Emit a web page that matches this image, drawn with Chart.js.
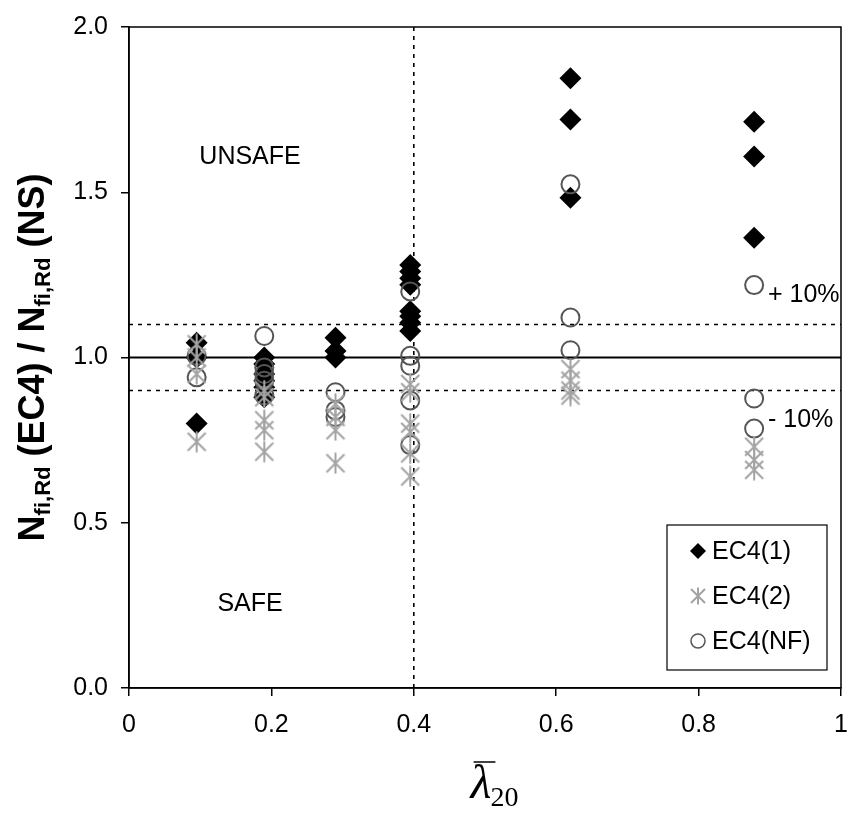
<!DOCTYPE html>
<html>
<head>
<meta charset="utf-8">
<script src="https://cdn.jsdelivr.net/npm/chart.js@4.4.1/dist/chart.umd.min.js"></script>
<style>
  html, body { margin: 0; padding: 0; background: #fff; }
  #wrap { width: 853px; height: 815px; }
</style>
</head>
<body>
<div id="wrap"><canvas id="chart"></canvas></div>
<script>
// slenderness groups (x) and ratio values read per group
var lambdaGroups = [0.095, 0.19, 0.29, 0.395, 0.62, 0.878];
var ec41Vals = [
  [1.045, 1.0, 0.80],
  [1.0, 0.98, 0.95, 0.93, 0.91, 0.88],
  [1.06, 1.02, 1.0],
  [1.28, 1.26, 1.24, 1.22, 1.14, 1.125, 1.105, 1.08],
  [1.845, 1.72, 1.483],
  [1.713, 1.608, 1.362]
];
var ec42Vals = [
  [1.04, 1.0, 0.95, 0.745],
  [0.90, 0.88, 0.81, 0.78, 0.715],
  [0.86, 0.82, 0.78, 0.68],
  [0.92, 0.895, 0.80, 0.775, 0.71, 0.64],
  [0.965, 0.93, 0.90, 0.885],
  [0.73, 0.69, 0.66]
];
var ec4nfVals = [
  [1.005, 0.94],
  [1.065, 0.97, 0.95, 0.93, 0.885],
  [0.895, 0.84, 0.82],
  [1.20, 1.005, 0.975, 0.87, 0.735],
  [1.524, 1.121, 1.022],
  [1.219, 0.876, 0.785]
];
var seriesNames = ['EC4(1)', 'EC4(2)', 'EC4(NF)'];
var xTicks = [0, 0.2, 0.4, 0.6, 0.8, 1];
var yTicks = [0, 0.5, 1.0, 1.5, 2.0];
var refLevels = [1.1, 1.0, 0.9];
var refLambda = 0.4;

var FONT = "'Liberation Sans', Arial, sans-serif";

function toPoints(groups) {
  var pts = [];
  groups.forEach(function(vals, i) {
    vals.forEach(function(v) { pts.push({ x: lambdaGroups[i], y: v }); });
  });
  return pts;
}

function makeStar(size, color) {
  var c = document.createElement('canvas');
  c.width = size; c.height = size;
  var g = c.getContext('2d');
  g.strokeStyle = color;
  g.lineWidth = 2;
  var m = 2, s = size;
  g.beginPath();
  g.moveTo(m, m); g.lineTo(s - m, s - m);
  g.moveTo(s - m, m); g.lineTo(m, s - m);
  g.moveTo(s / 2, 0.5); g.lineTo(s / 2, s - 0.5);
  g.stroke();
  return c;
}
var starBig = makeStar(22, '#a3a3a3');
var starSmall = makeStar(18, '#a3a3a3');

var refSets = refLevels.map(function(v) {
  return {
    data: [{ x: 0, y: v }, { x: 1, y: v }],
    showLine: true, pointRadius: 0, borderColor: '#000',
    borderWidth: v === 1 ? 2 : 1.6,
    borderDash: v === 1 ? [] : [4, 5],
    order: 10
  };
});
refSets.push({
  data: [{ x: refLambda, y: 0 }, { x: refLambda, y: 2 }],
  showLine: true, pointRadius: 0, borderColor: '#000',
  borderWidth: 1.6, borderDash: [4, 5], order: 10
});

var frameAndText = {
  id: 'frameAndText',
  afterDraw: function(chart) {
    var ctx = chart.ctx, ca = chart.chartArea;
    var xs = chart.scales.x, ys = chart.scales.y;
    ctx.save();
    // plot frame
    ctx.strokeStyle = '#000';
    ctx.lineWidth = 1.5;
    ctx.strokeRect(ca.left, ca.top, ca.right - ca.left, ca.bottom - ca.top);

    // region labels
    ctx.fillStyle = '#000';
    ctx.font = '25px ' + FONT;
    ctx.textAlign = 'center';
    ctx.textBaseline = 'middle';
    ctx.fillText('UNSAFE', xs.getPixelForValue(0.17), ys.getPixelForValue(1.605));
    ctx.fillText('SAFE', xs.getPixelForValue(0.17), ys.getPixelForValue(0.255));
    ctx.textAlign = 'left';
    ctx.fillText('+ 10%', 768, ys.getPixelForValue(1.19));
    ctx.fillText('- 10%', 768, ys.getPixelForValue(0.81));

    // legend box
    var bx = 667, by = 525, bw = 160, bh = 145;
    ctx.fillStyle = '#fff';
    ctx.fillRect(bx, by, bw, bh);
    ctx.strokeStyle = '#000';
    ctx.lineWidth = 1.2;
    ctx.strokeRect(bx, by, bw, bh);
    var rows = [551, 596, 641];
    var styles = [
      { pointStyle: 'rectRot', radius: 8, borderWidth: 0, fill: '#000', stroke: '#000' },
      { pointStyle: starSmall, radius: 9, borderWidth: 0, fill: '#a3a3a3', stroke: '#a3a3a3' },
      { pointStyle: 'circle', radius: 7, borderWidth: 1.5, fill: 'rgba(0,0,0,0)', stroke: '#555' }
    ];
    for (var i = 0; i < 3; i++) {
      ctx.fillStyle = styles[i].fill;
      ctx.strokeStyle = styles[i].stroke;
      ctx.lineWidth = styles[i].borderWidth;
      Chart.helpers.drawPoint(ctx, { pointStyle: styles[i].pointStyle, radius: styles[i].radius, borderWidth: styles[i].borderWidth, rotation: 0 }, 698, rows[i]);
      ctx.fillStyle = '#000';
      ctx.font = '25px ' + FONT;
      ctx.textAlign = 'left';
      ctx.textBaseline = 'middle';
      ctx.fillText(seriesNames[i], 712, rows[i] + 1);
    }

    // y-axis title with subscripts
    var parts = [
      ['N', 0], ['fi,Rd', 1], [' (EC4) / N', 0], ['fi,Rd', 1], [' (NS)', 0]
    ];
    var big = 'bold 36px ' + FONT, small = 'bold 22px ' + FONT;
    var total = 0;
    parts.forEach(function(p) { ctx.font = p[1] ? small : big; total += ctx.measureText(p[0]).width; });
    ctx.save();
    ctx.translate(44, (ca.top + ca.bottom) / 2);
    ctx.rotate(-Math.PI / 2);
    ctx.textAlign = 'left';
    ctx.textBaseline = 'alphabetic';
    ctx.fillStyle = '#000';
    var px = -total / 2;
    parts.forEach(function(p) {
      ctx.font = p[1] ? small : big;
      ctx.fillText(p[0], px, p[1] ? 6 : 0);
      px += ctx.measureText(p[0]).width;
    });
    ctx.restore();

    // x-axis title: lambda-bar with subscript 20
    ctx.fillStyle = '#000';
    ctx.textAlign = 'left';
    ctx.textBaseline = 'alphabetic';
    var serif = '"Liberation Serif", "Times New Roman", serif';
    ctx.font = 'italic 48px ' + serif;
    var lw = ctx.measureText('\u03bb').width;
    ctx.font = '28px ' + serif;
    var sw = ctx.measureText('20').width;
    var lx = (ca.left + ca.right) / 2 - (lw + sw) / 2 + 10;
    ctx.font = 'italic 48px ' + serif;
    ctx.fillText('\u03bb', lx, 798);
    ctx.lineWidth = 1.5;
    ctx.strokeStyle = '#000';
    ctx.beginPath();
    ctx.moveTo(lx + 3, 762);
    ctx.lineTo(lx + lw + 4, 762);
    ctx.stroke();
    ctx.font = '28px ' + serif;
    ctx.fillText('20', lx + lw - 1, 806);
    ctx.restore();
  }
};

var ctx = document.getElementById('chart').getContext('2d');
var myChart = new Chart(ctx, {
  type: 'scatter',
  data: {
    datasets: refSets.concat([
      {
        label: seriesNames[0],
        data: toPoints(ec41Vals),
        pointStyle: 'rectRot',
        pointRadius: 11,
        pointBorderWidth: 0,
        backgroundColor: '#000',
        borderColor: '#000',
        order: 3
      },
      {
        label: seriesNames[2],
        data: toPoints(ec4nfVals),
        pointStyle: 'circle',
        pointRadius: 9,
        pointBorderWidth: 2,
        backgroundColor: 'rgba(0,0,0,0)',
        borderColor: '#555',
        order: 2
      },
      {
        label: seriesNames[1],
        data: toPoints(ec42Vals),
        pointStyle: starBig,
        pointRadius: 11,
        backgroundColor: '#a3a3a3',
        borderColor: '#a3a3a3',
        order: 1
      }
    ])
  },
  options: {
    responsive: true,
    maintainAspectRatio: false,
    animation: false,
    layout: { padding: { top: 27, right: 9, left: 0, bottom: 0 } },
    plugins: {
      legend: { display: false },
      tooltip: { enabled: false }
    },
    scales: {
      x: {
        type: 'linear', min: 0, max: 1,
        afterBuildTicks: function(s) { s.ticks = xTicks.map(function(v) { return { value: v }; }); },
        afterFit: function(s) { s.height = 127; s.paddingLeft = 0; s.paddingRight = 0; },
        grid: { drawOnChartArea: false, drawTicks: true, tickLength: 8, color: '#000', lineWidth: 1.5 },
        border: { display: true, color: '#000', width: 1.5 },
        ticks: {
          color: '#000', padding: 14, maxRotation: 0,
          font: { family: FONT, size: 25 },
          callback: function(v) { return String(v); }
        }
      },
      y: {
        type: 'linear', min: 0, max: 2,
        afterBuildTicks: function(s) { s.ticks = yTicks.map(function(v) { return { value: v }; }); },
        afterFit: function(s) { s.width = 129; s.paddingTop = 0; s.paddingBottom = 0; },
        grid: { drawOnChartArea: false, drawTicks: true, tickLength: 8, color: '#000', lineWidth: 1.5 },
        border: { display: true, color: '#000', width: 1.5 },
        ticks: {
          color: '#000', padding: 13,
          font: { family: FONT, size: 25 },
          callback: function(v) { return v.toFixed(1); }
        }
      }
    }
  },
  plugins: [frameAndText]
});
</script>
</body>
</html>
